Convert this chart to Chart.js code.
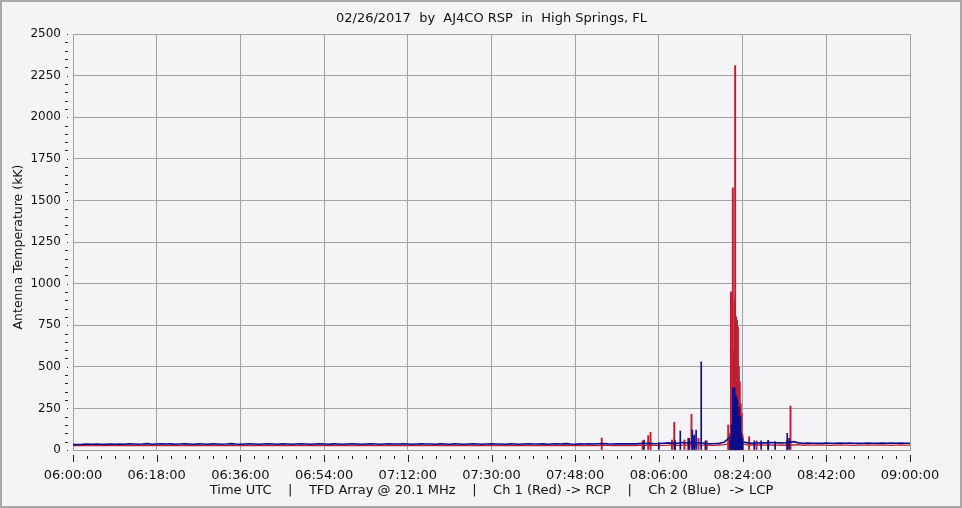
<!DOCTYPE html>
<html>
<head>
<meta charset="utf-8">
<title>AJ4CO RSP 02/26/2017</title>
<script src="https://cdn.jsdelivr.net/npm/chart.js@4.4.0/dist/chart.umd.min.js"></script>
<style>
  html, body { margin: 0; padding: 0; background: #f4f4f6; }
  canvas { display: block; }
</style>
</head>
<body>
<canvas id="rspChart" width="962" height="508"></canvas>
<script>
// minutes after 06:00 UTC, one value per minute (kK)
const redBase = [
  26, 27, 26, 27, 28, 27, 26, 27, 27, 28,
  27, 26, 27, 28, 27, 27, 26, 27, 28, 27,
  27, 28, 27, 26, 27, 27, 28, 27, 26, 27,
  28, 27, 27, 26, 27, 28, 27, 27, 26, 27,
  27, 28, 27, 27, 26, 27, 28, 27, 27, 26,
  27, 27, 28, 27, 26, 27, 27, 28, 27, 27,
  26, 27, 28, 27, 27, 26, 27, 28, 27, 27,
  27, 26, 27, 28, 27, 27, 26, 27, 27, 28,
  27, 27, 26, 27, 28, 27, 27, 26, 27, 27,
  28, 27, 27, 26, 27, 27, 28, 27, 27, 26,
  27, 28, 27, 27, 26, 27, 28, 27, 27, 28,
  27, 27, 28, 27, 29, 28, 27, 27, 28, 27,
  28, 27, 29, 28, 30, 28, 27, 28, 29, 31,
  28, 29, 30, 32, 31, 29, 28, 29, 28, 30,
  32, 37, 44, 48, 35, 31, 30, 31, 30, 29,
  30, 29, 30, 29, 31, 30, 32, 29, 30, 29,
  29, 30, 29, 28, 29, 30, 29, 29, 28, 29,
  29, 30, 29, 29, 30, 29, 28, 29, 30, 29, 29,
];
const blueBase = [
  32, 33, 34, 36, 35, 36, 35, 34, 36, 35,
  36, 35, 37, 36, 35, 36, 38, 35, 36, 37,
  36, 37, 35, 36, 37, 36, 35, 37, 36, 35,
  37, 36, 35, 36, 38, 36, 35, 36, 37, 36,
  35, 36, 37, 36, 35, 37, 36, 35, 36, 37,
  36, 35, 36, 37, 36, 35, 37, 36, 35, 36,
  37, 36, 35, 36, 37, 36, 35, 36, 37, 36,
  36, 37, 36, 35, 36, 37, 36, 36, 35, 37,
  36, 35, 37, 36, 35, 36, 37, 36, 35, 36,
  37, 36, 36, 35, 37, 36, 35, 36, 37, 36,
  36, 37, 35, 36, 37, 36, 38, 36, 35, 37,
  36, 37, 36, 38, 39, 37, 36, 37, 38, 37,
  38, 37, 39, 41, 40, 38, 39, 41, 43, 40,
  41, 45, 42, 46, 44, 43, 39, 38, 39, 41,
  46, 70, 90, 80, 50, 43, 41, 42, 44, 43,
  45, 44, 43, 42, 46, 50, 43, 41, 42, 41,
  40, 41, 42, 41, 40, 42, 41, 42, 41, 40,
  41, 42, 41, 40, 42, 41, 42, 41, 42, 41, 41,
];

// short bursts: minute after 06:00, peak (kK)
const redBurstTime = [
  113.7, 122.5, 123.7, 124.2, 128.8, 129.3, 131.5, 132.3, 133.0, 133.6,
  134.5, 136.3, 140.9, 141.1, 141.3, 141.5, 141.7, 141.9, 142.1, 142.3,
  142.4, 142.6, 142.8, 143.0, 143.2, 143.4, 143.6, 143.8, 144.0, 145.4,
  147.0, 149.5, 153.6, 154.3,
];
const redBurstPeak = [
  72, 55, 86, 106, 60, 166, 60, 70, 214, 80,
  70, 55, 150, 60, 100, 950, 400, 1575, 600, 900,
  2310, 800, 780, 740, 500, 410, 280, 220, 90, 80,
  55, 55, 60, 264,
];
const blueBurstTime = [
  122.8, 126.0, 129.5, 130.6, 132.5, 133.2, 133.6, 134.0, 135.1, 136.0,
  141.3, 141.6, 141.9, 142.1, 142.3, 142.5, 142.7, 142.9, 143.1, 143.3,
  143.5, 143.7, 144.0, 146.5, 148.0, 149.5, 151.0, 153.6, 154.0,
];
const blueBurstPeak = [
  60, 45, 55, 114, 70, 120, 90, 120, 530, 55,
  60, 150, 373, 250, 373, 330, 319, 300, 200, 260,
  200, 100, 72, 55, 55, 58, 50, 100, 70,
];

const yMax = 2500;
const xMax = 180;

const RED = "#c01f33";
const BLUE = "#0c0c8c";
const GRID = "#a3a3a3";
const FONT = "DejaVu Sans, Verdana, sans-serif";

function toPoints(values) {
  return values.map((v, i) => ({ x: i, y: v }));
}
function burstPoints(times, peaks) {
  return times.map((t, i) => ({ x: t, y: peaks[i] }));
}
function hhmmss(min) {
  const h = 6 + Math.floor(min / 60);
  const m = min % 60;
  return String(h).padStart(2, "0") + ":" + String(m).padStart(2, "0") + ":00";
}

// background, frame, title and axis captions, tick marks
const framePlugin = {
  id: "frame",
  beforeDraw(chart) {
    const c = chart.ctx;
    c.save();
    c.fillStyle = "#f4f4f6";
    c.fillRect(0, 0, chart.width, chart.height);
    c.strokeStyle = "#a8a8a8";
    c.lineWidth = 2;
    c.strokeRect(1, 1, chart.width - 2, chart.height - 2);
    c.restore();
  },
  afterDraw(chart) {
    const c = chart.ctx;
    const area = chart.chartArea;
    const xs = chart.scales.x;
    const ys = chart.scales.y;
    c.save();
    c.fillStyle = "#111";
    c.font = "13px " + FONT;
    c.textAlign = "center";
    c.textBaseline = "middle";
    c.fillText("02/26/2017  by  AJ4CO RSP  in  High Springs, FL", (area.left + area.right) / 2, 18.5);
    c.fillText(
      "Time UTC    |    TFD Array @ 20.1 MHz    |    Ch 1 (Red) -> RCP    |    Ch 2 (Blue)  -> LCP",
      (area.left + area.right) / 2, 490.5
    );
    c.font = "12.5px " + FONT;
    c.translate(19, (area.top + area.bottom) / 2 + 5);
    c.rotate(-Math.PI / 2);
    c.fillText("Antenna Temperature (kK)", 0, 0);
    c.restore();

    c.save();
    c.strokeStyle = "#222";
    c.lineWidth = 1;
    c.beginPath();
    xs.ticks.forEach((t) => {
      const px = Math.round(xs.getPixelForValue(t.value)) + 0.5;
      const major = t.value % 18 === 0;
      c.moveTo(px, area.bottom + (major ? 5 : 6));
      c.lineTo(px, area.bottom + (major ? 12 : 9));
    });
    ys.ticks.forEach((t) => {
      const py = Math.round(ys.getPixelForValue(t.value)) + 0.5;
      const major = t.value % 250 === 0;
      c.moveTo(area.left - (major ? 6 : 8), py);
      c.lineTo(area.left - 5, py);
    });
    c.stroke();
    c.restore();
  },
};

const ctx = document.getElementById("rspChart").getContext("2d");
const rspChart = new Chart(ctx, {
  type: "line",
  data: {
    datasets: [
      {
        type: "bar",
        label: "Ch 2 bursts",
        data: burstPoints(blueBurstTime, blueBurstPeak),
        backgroundColor: BLUE,
        barThickness: 1,
        grouped: false,
      },
      {
        label: "Ch 2 (Blue) LCP",
        data: toPoints(blueBase),
        borderColor: BLUE,
        borderWidth: 1.6,
        pointRadius: 0,
        tension: 0,
      },
      {
        type: "bar",
        label: "Ch 1 bursts",
        data: burstPoints(redBurstTime, redBurstPeak),
        backgroundColor: RED,
        barThickness: 1.3,
        grouped: false,
      },
      {
        label: "Ch 1 (Red) RCP",
        data: toPoints(redBase),
        borderColor: RED,
        borderWidth: 1.4,
        pointRadius: 0,
        tension: 0,
      },
    ],
  },
  options: {
    responsive: false,
    animation: false,
    events: [],
    layout: {
      padding: { top: 34, right: 52, bottom: 0, left: 0 },
    },
    plugins: {
      legend: { display: false },
      title: { display: false },
      tooltip: { enabled: false },
    },
    scales: {
      x: {
        type: "linear",
        min: 0,
        max: xMax,
        offset: false,
        afterFit: (s) => {
          s.height = 58;
        },
        ticks: {
          stepSize: 3,
          autoSkip: false,
          maxRotation: 0,
          padding: 18,
          color: "#111",
          font: { family: FONT, size: 13 },
          callback: (v) => (v % 18 === 0 ? hhmmss(v) : ""),
        },
        grid: {
          offset: false,
          drawTicks: false,
          color: (c) => (c.tick && c.tick.value % 18 === 0 ? GRID : "rgba(0,0,0,0)"),
        },
        border: { color: GRID },
      },
      y: {
        min: 0,
        max: yMax,
        afterFit: (s) => {
          s.width = 73;
        },
        ticks: {
          stepSize: 50,
          autoSkip: false,
          padding: 12,
          color: "#111",
          font: { family: FONT, size: 12 },
          callback: (v) => (v % 250 === 0 ? String(v) : ""),
        },
        grid: {
          drawTicks: false,
          color: (c) => (c.tick && c.tick.value % 250 === 0 ? GRID : "rgba(0,0,0,0)"),
        },
        border: { color: GRID },
      },
    },
  },
  plugins: [framePlugin],
});
</script>
</body>
</html>
